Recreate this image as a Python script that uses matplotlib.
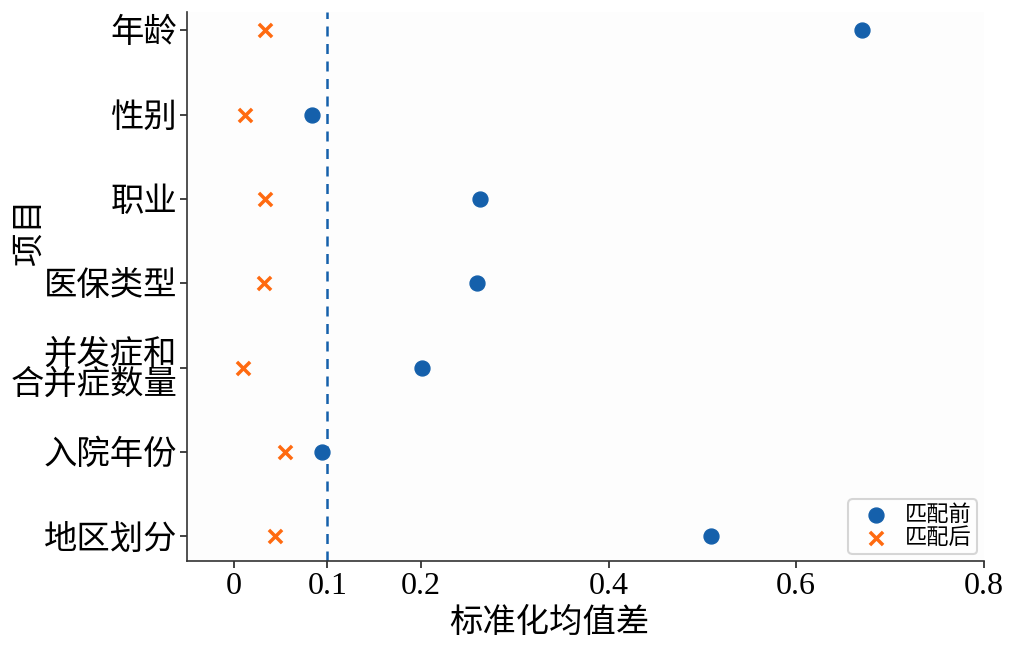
import matplotlib
matplotlib.use('Agg')
import matplotlib.pyplot as plt
import numpy as np

plt.rcParams['font.family'] = ['Liberation Serif', 'Noto Sans CJK SC']
plt.rcParams['axes.unicode_minus'] = False

# data
items = ['年龄', '性别', '职业', '医保类型', '并发症和\n合并症数量', '入院年份', '地区划分']
smd_before = [0.670, 0.084, 0.263, 0.259, 0.201, 0.094, 0.509]
smd_after = [0.033, 0.012, 0.033, 0.032, 0.010, 0.055, 0.044]
threshold = 0.1
xticks = [0, 0.1, 0.2, 0.4, 0.6, 0.8]
xtick_labels = ['0', '0.1', '0.2', '0.4', '0.6', '0.8']

blue = '#1560ab'
orange = '#ff6a10'

fig = plt.figure(figsize=(10.1, 6.5), dpi=100)
ax = fig.add_axes([0.185, 0.137, 0.789, 0.845])
ax.set_facecolor('#fdfdfd')

y = np.arange(len(items))[::-1]
ax.scatter(smd_before, y, s=115, color=blue, marker='o', label='匹配前', zorder=3)
ax.scatter(smd_after, y, s=90, color=orange, marker='x', linewidths=2.5, label='匹配后', zorder=3)
ax.axvline(threshold, color=blue, linestyle=(0, (4, 3)), linewidth=1.8, zorder=2)

ax.set_yticks(y)
ax.set_yticklabels(items, fontsize=24, linespacing=0.92)
ax.set_xticks(xticks)
ax.set_xticklabels(xtick_labels, fontsize=23)
ax.set_xlim(-0.05, 0.8)
ax.set_ylim(-0.29, 6.22)

ax.set_xlabel('标准化均值差', fontsize=24)
ax.set_ylabel('项目', fontsize=24)
ax.xaxis.set_label_coords(0.455, -0.085)
ax.yaxis.set_label_coords(-0.177, 0.6)

for side in ['top', 'right']:
    ax.spines[side].set_visible(False)
for side in ['left', 'bottom']:
    ax.spines[side].set_color('#333333')
    ax.spines[side].set_linewidth(1.2)
ax.tick_params(axis='both', direction='out', length=5, width=1.2, color='#222222')
ax.tick_params(axis='y', pad=2)
ax.tick_params(axis='x', pad=3)

leg = ax.legend(loc='lower right', fontsize=16, frameon=True, fancybox=True,
                borderpad=0.25, handletextpad=0.3, labelspacing=0.1,
                borderaxespad=0.3, bbox_to_anchor=(1.0, 0.0))
leg.get_frame().set_edgecolor('#cccccc')
leg.get_frame().set_linewidth(1.5)

fig.savefig('out.png', dpi=100)
